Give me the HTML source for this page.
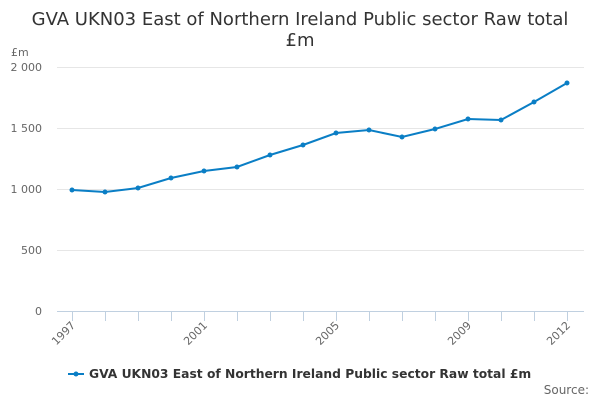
<!DOCTYPE html><html><head><style>body{margin:0;background:#fff}svg{display:block;font-family:"DejaVu Sans","Liberation Sans",sans-serif}</style></head><body>
<svg width="600" height="400" viewBox="0 0 600 400">
<text x="300" y="25" text-anchor="middle" font-size="18" fill="#333">GVA UKN03 East of Northern Ireland Public sector Raw total</text>
<text x="300" y="46" text-anchor="middle" font-size="18" fill="#333">£m</text>
<text x="11" y="56" font-size="11" fill="#666">£m</text>
<g stroke="#e6e6e6" stroke-width="1">
<line x1="57" x2="584" y1="67.5" y2="67.5"/><line x1="57" x2="584" y1="128.5" y2="128.5"/><line x1="57" x2="584" y1="189.5" y2="189.5"/><line x1="57" x2="584" y1="250.5" y2="250.5"/>
</g>
<line x1="57" x2="584" y1="311.5" y2="311.5" stroke="#c0d0e0"/>
<g stroke="#c0d0e0"><line x1="72.5" x2="72.5" y1="312" y2="321"/><line x1="105.5" x2="105.5" y1="312" y2="321"/><line x1="138.5" x2="138.5" y1="312" y2="321"/><line x1="171.5" x2="171.5" y1="312" y2="321"/><line x1="204.5" x2="204.5" y1="312" y2="321"/><line x1="237.5" x2="237.5" y1="312" y2="321"/><line x1="270.5" x2="270.5" y1="312" y2="321"/><line x1="303.5" x2="303.5" y1="312" y2="321"/><line x1="336.5" x2="336.5" y1="312" y2="321"/><line x1="369.5" x2="369.5" y1="312" y2="321"/><line x1="402.5" x2="402.5" y1="312" y2="321"/><line x1="435.5" x2="435.5" y1="312" y2="321"/><line x1="468.5" x2="468.5" y1="312" y2="321"/><line x1="501.5" x2="501.5" y1="312" y2="321"/><line x1="534.5" x2="534.5" y1="312" y2="321"/><line x1="567.5" x2="567.5" y1="312" y2="321"/></g>
<g font-size="11" fill="#666" text-anchor="end">
<text x="42" y="71">2 000</text><text x="42" y="132">1 500</text><text x="42" y="193">1 000</text><text x="42" y="254">500</text><text x="42" y="315">0</text>
</g>
<g font-size="11" fill="#666" text-anchor="end">
<text transform="translate(76,326) rotate(-45)">1997</text>
<text transform="translate(208,326) rotate(-45)">2001</text>
<text transform="translate(340,326) rotate(-45)">2005</text>
<text transform="translate(472,326) rotate(-45)">2009</text>
<text transform="translate(571,326) rotate(-45)">2012</text>
</g>
<polyline fill="none" stroke="#0a7ec5" stroke-width="2" points="72,190 105,192 138,188 171,178 204,171 237,167 270,155 303,145 336,133 369,130 402,137 435,129 468,119 501,120 534,102 567,83"/>
<g fill="#0a7ec5"><circle cx="72" cy="190" r="2.5"/><circle cx="105" cy="192" r="2.5"/><circle cx="138" cy="188" r="2.5"/><circle cx="171" cy="178" r="2.5"/><circle cx="204" cy="171" r="2.5"/><circle cx="237" cy="167" r="2.5"/><circle cx="270" cy="155" r="2.5"/><circle cx="303" cy="145" r="2.5"/><circle cx="336" cy="133" r="2.5"/><circle cx="369" cy="130" r="2.5"/><circle cx="402" cy="137" r="2.5"/><circle cx="435" cy="129" r="2.5"/><circle cx="468" cy="119" r="2.5"/><circle cx="501" cy="120" r="2.5"/><circle cx="534" cy="102" r="2.5"/><circle cx="567" cy="83" r="2.5"/></g>
<line x1="68" x2="84" y1="374" y2="374" stroke="#0a7ec5" stroke-width="2"/><circle cx="76" cy="374" r="2.5" fill="#0a7ec5"/>
<text x="89" y="378" font-size="12.3" font-weight="bold" fill="#333">GVA UKN03 East of Northern Ireland Public sector Raw total £m</text>
<text x="589" y="394" font-size="12" fill="#666" text-anchor="end">Source:</text>
</svg></body></html>
